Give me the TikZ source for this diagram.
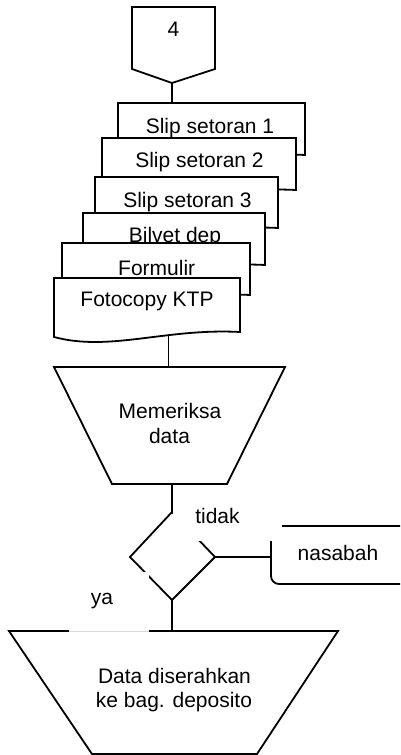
\documentclass[tikz,border=0pt]{standalone}
\usepackage{fontspec}
\setmainfont{Liberation Sans}
\newcommand{\mydoc}[4]{%
  \pgfmathsetmacro{\dw}{#2-#1}%
  \pgfmathsetmacro{\cxa}{#1+0.6*\dw}%
  \pgfmathsetmacro{\cxb}{#1+0.3*\dw}%
  \filldraw[shapeline,fill=white] (#1,#3) -- (#2,#3) -- (#2,#4)
    .. controls (\cxa,#4-4) and (\cxb,#4+20) .. (#1,#4+5) -- cycle;}
\begin{document}
\begin{tikzpicture}[x=1bp,y=-1bp,
  shapeline/.style={line width=1.8bp,line join=miter,draw=black},
  conn/.style={line width=1.8bp,draw=black},
  txt/.style={font=\fontsize{21bp}{26bp}\selectfont,inner sep=0pt,anchor=base},
  cover/.style={fill=white,draw=none}]
\useasboundingbox (0,0) rectangle (400,755);
\clip (0,0) rectangle (400,755);
% named coordinates for connectors
\coordinate (pTip) at (172,83);
\coordinate (d1top) at (172,103);
\coordinate (d6b) at (168.5,336);
\coordinate (t1top) at (168.5,367);
\coordinate (t1bot) at (172,484);
\coordinate (dTop) at (172,512);
\coordinate (dLeft) at (130,557);
\coordinate (dRight) at (215,557);
\coordinate (dBot) at (172,600);
\coordinate (nLeft) at (271,557);
\coordinate (t2top) at (172,631);
% connectors
\draw[conn] (pTip) -- (d1top);
\draw[conn] (d6b) -- (t1top);
\draw[conn] (t1bot) -- (dTop);
\draw[conn] (dRight) -- (nLeft);
\draw[conn] (dBot) -- (t2top);
% off-page connector
\filldraw[shapeline,fill=white] (132,7) -- (215,7) -- (215,69) -- (pTip) -- (132,69) -- cycle;
\node[txt] (n4) at (173.5,37) {4};
% stacked documents
\mydoc{118}{305}{103}{155}
\node[txt] (s1) at (210,133) {Slip setoran 1};
\mydoc{102}{296}{138}{190}
\node[txt] (s2) at (199.5,167) {Slip setoran 2};
\mydoc{95}{278}{177}{228}
\node[txt] (s3) at (187.5,207) {Slip setoran 3};
\mydoc{83}{265}{213}{265}
\node[txt] (bil) at (175,242) {Bilvet dep};
\mydoc{62}{250}{243}{295}
\node[txt] (form) at (156.7,275) {Formulir};
\mydoc{54}{240}{278}{332}
\node[txt] (ktp) at (147,306) {Fotocopy KTP};
% trapezoid 1
\filldraw[shapeline,fill=white] (54,367) -- (285,367) -- (227,484) -- (112,484) -- cycle;
\node[txt] (m1) at (170,418) {Memeriksa};
\node[txt] (m2) at (169.5,443) {data};
% decision
\draw[shapeline] (dTop) -- (dRight) -- (dBot) -- (dLeft) -- cycle;
% nasabah terminal
\draw[shapeline,rounded corners=8bp] (420,526) -- (271,526) -- (271,584) -- (420,584);
\node[txt] (nas) at (338,560) {nasabah};
% trapezoid 2
\draw[shapeline] (9,631) -- (338,631) -- (257,754) -- (92,754) -- cycle;
\node[txt] (dd1) at (174.5,683) {Data diserahkan};
\node[txt] (dd2) at (174,707) {ke bag. deposito};
% labels with white background
\fill[cover] (173.2,492) rectangle (282,541);
\node[txt] (tidak) at (217.5,523) {tidak};
\fill[cover] (69,572) rectangle (149,632);
\draw[gray!30,line width=0.7bp] (69,631.4) -- (149,631.4);
\node[txt] (ya) at (102,604) {ya};
\end{tikzpicture}
\end{document}
